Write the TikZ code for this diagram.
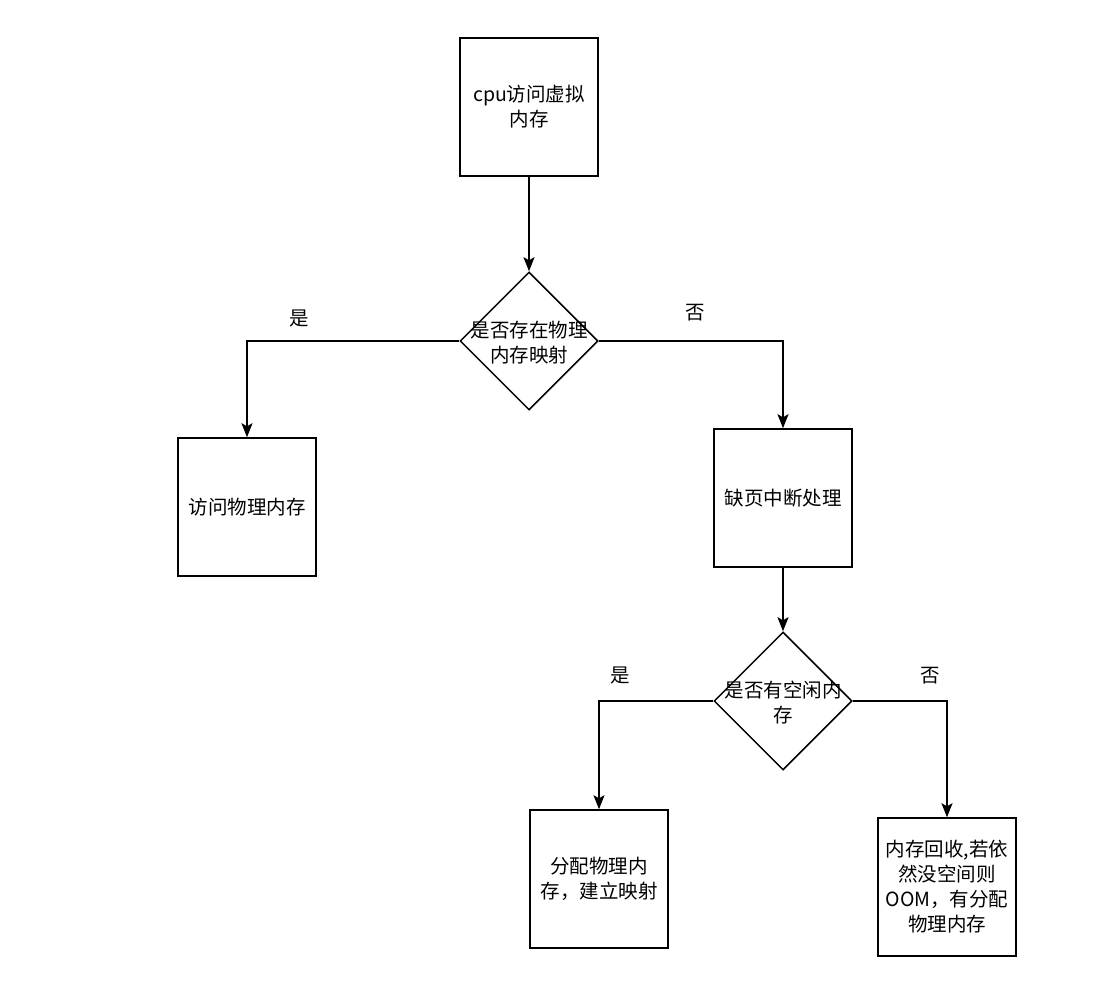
\documentclass[tikz,border=0pt]{standalone}
\usepackage{fontspec}
\setmainfont{Liberation Sans}
\newfontfamily\cjk{Noto Sans CJK SC}
\usetikzlibrary{shapes.geometric, arrows.meta}

\begin{document}
\begin{tikzpicture}[x=1pt, y=-1pt,
					box/.style={draw, line width=1.5pt, minimum width=138pt, minimum height=138pt, align=center, inner sep=2pt},
					ask/.style={draw, line width=1.5pt, diamond, minimum width=138pt, minimum height=138pt, inner sep=0pt, aspect=1},
					flow/.style={draw, line width=1.5pt, -{Stealth[length=14pt, width=11pt, inset=3pt]}},
					txt/.style={align=center},
					font=\cjk\fontsize{19.5}{25}\selectfont]
					% Rahmen
					\useasboundingbox (0,0) rectangle (1098,987);
					% Knoten
					\node[box] (cpu) at (529,107) {cpu访问虚拟\\内存};
					\node[ask] (map) at (529,341) {};
					\node[txt] (maptext) at (529,343) {是否存在物理\\内存映射};
					\node[box] (phys) at (247,507) {访问物理内存};
					\node[box] (fault) at (783,498) {缺页中断处理};
					\node[ask] (free) at (783,701) {};
					\node[txt] (freetext) at (783,703) {是否有空闲内\\存};
					\node[box] (alloc) at (599,879) {分配物理内\\存，建立映射};
					\node[box] (oom) at (947,887) {内存回收,若依\\然没空间则\\OOM，有分配\\物理内存};
					% Pfeile
					\draw[flow] (cpu) -- (map);
					\draw[flow] (map.west) -| (phys.north);
					\draw[flow] (map.east) -| (fault.north);
					\draw[flow] (fault) -- (free);
					\draw[flow] (free.west) -| (alloc.north);
					\draw[flow] (free.east) -| (oom.north);
					% Beschriftung
					\node (yes1) at (299,318) {是};
					\node (no1) at (695,313) {否};
					\node (yes2) at (620,675) {是};
					\node (no2) at (930,676) {否};
				\end{tikzpicture}
\end{document}
